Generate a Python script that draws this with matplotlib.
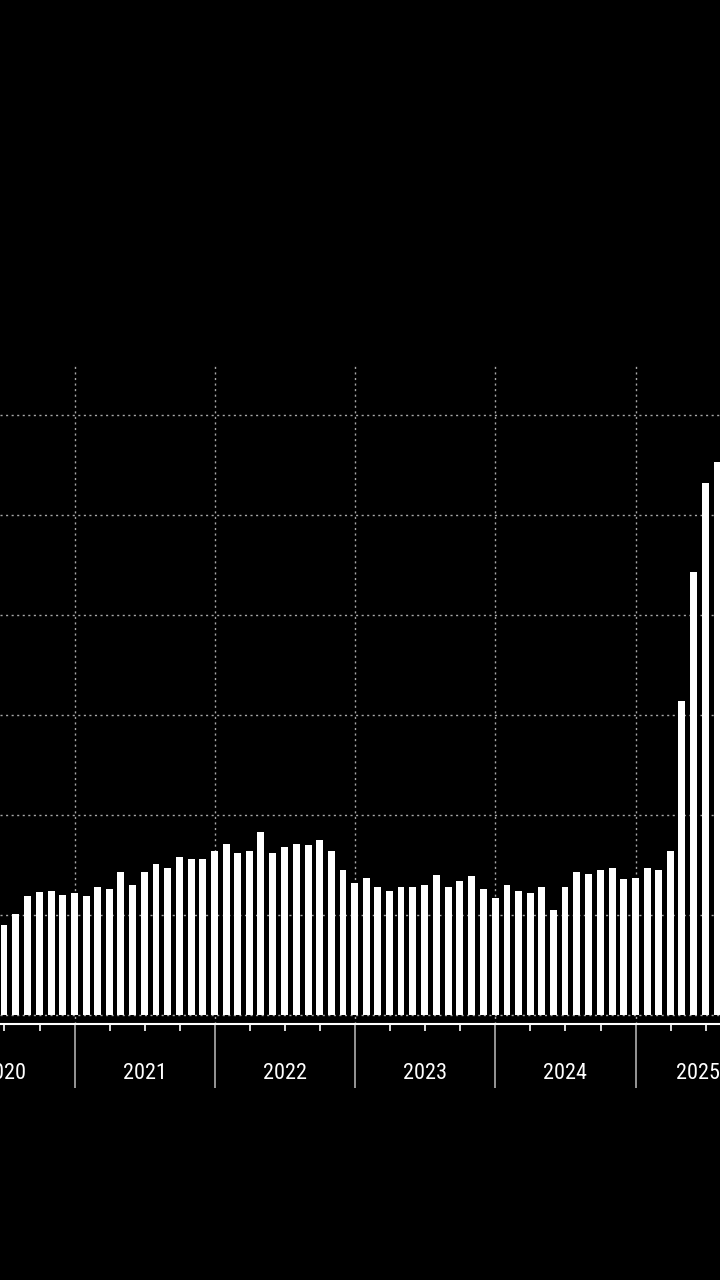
import matplotlib
matplotlib.use('Agg')
import matplotlib.pyplot as plt
import matplotlib.dates as mdates
import matplotlib.transforms as mtransforms
import pandas as pd

# monthly values, Jun 2020 - Jul 2025 (bars sit on month-end dates)
months = pd.date_range('2020-06-30', '2025-07-31', freq='ME')
values = [
    4.5, 5.05, 5.92, 6.12, 6.2, 6.0, 6.1,
    5.92, 6.38, 6.28, 7.13, 6.48, 7.13, 7.53, 7.32, 7.9, 7.8, 7.8, 8.18,
    8.55, 8.08, 8.18, 9.12, 8.1, 8.38, 8.55, 8.47, 8.75, 8.18, 7.22, 6.58,
    6.85, 6.38, 6.18, 6.38, 6.38, 6.47, 6.97, 6.38, 6.67, 6.95, 6.28, 5.82,
    6.47, 6.2, 6.1, 6.38, 5.25, 6.38, 7.13, 7.05, 7.23, 7.32, 6.77, 6.85,
    7.32, 7.23, 8.18, 15.7, 22.15, 26.6, 27.65,
]
years = [2020, 2021, 2022, 2023, 2024, 2025]
y_ticks = [0, 5, 10, 15, 20, 25, 30]

fig = plt.figure(figsize=(7.2, 12.8), dpi=100, facecolor='black')
ax = fig.add_axes([0, 0.2, 1, 0.5148])
ax.set_facecolor('black')

ax.bar(months, values, width=18, color='white', zorder=3)

ax.set_xlim(pd.Timestamp('2020-06-19 16:00'), pd.Timestamp('2025-08-07 16:00'))
ax.set_ylim(-0.475, 32.475)
ax.set_yticks(y_ticks)
ax.tick_params(axis='y', left=False, labelleft=False)

ax.xaxis.set_major_locator(mdates.YearLocator())
ax.xaxis.set_minor_locator(mdates.MonthLocator([4, 7, 10]))
ax.tick_params(axis='x', which='major', length=46, width=1.2, color='#b0b0b0',
               labelbottom=False, direction='out')
ax.tick_params(axis='x', which='minor', length=5, width=1.2, color='white',
               direction='out')

grid_style = dict(color='#a8a8a8', linestyle=(0, (1.5, 2.5)), linewidth=1)
ax.grid(axis='y', **grid_style)
ax.grid(axis='x', which='major', **grid_style)
ax.set_axisbelow(True)

for s in ['top', 'left', 'right']:
    ax.spines[s].set_visible(False)
ax.spines['bottom'].set_color('white')
ax.spines['bottom'].set_linewidth(1.5)

# year labels under the axis, centred on mid-year (last one pulled inside)
trans = mtransforms.blended_transform_factory(ax.transData, ax.transAxes)
for yr in years:
    x = mdates.date2num(pd.Timestamp(f'{yr}-07-01'))
    if yr == 2025:
        x = mdates.date2num(pd.Timestamp('2025-06-12'))
    ax.text(x, -0.0745, str(yr), transform=trans, ha='center', va='center',
            color='white', fontsize=16, fontstretch='condensed',
            family=['Roboto Condensed', 'Open Sans Condensed', 'Liberation Sans Narrow',
                    'Roboto'])

fig.savefig('out.png', facecolor='black')
